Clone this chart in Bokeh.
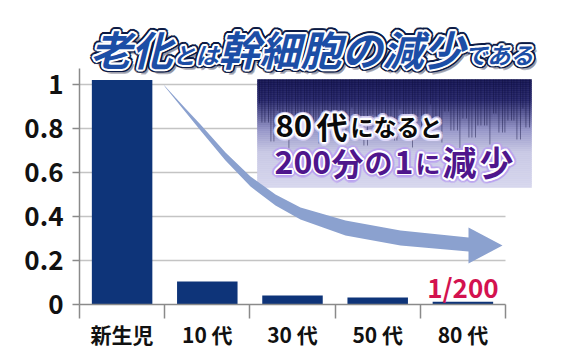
import math
from bokeh.plotting import figure
from bokeh.models import FixedTicker, ColumnDataSource, Range1d
from bokeh.core.properties import value
from bokeh.embed import file_html
from bokeh.resources import INLINE

# ---------------- data ----------------
categories = ["新生児", "10 代", "30 代", "50 代", "80 代"]
values = [1.02, 0.105, 0.041, 0.032, 0.012]
y_ticks = [0, 0.2, 0.4, 0.6, 0.8, 1.0]
y_tick_labels = ["0", "0.2", "0.4", "0.6", "0.8", "1"]
title_parts = ["老化", "とは", "幹細胞の減少", "である"]
callout_line1 = ["80", "代", "になると"]
callout_line2 = ["200", "分", "の", "1", "に", "減", "少"]
bar_note = "1/200"

# ---------------- layout helpers ----------------
W, H = 561, 355
L, B = 79, 51
UX, UY = 85.2, 220.0
X_END = (W - L) / UX
Y_END = (H - B) / UY
FONT = "Noto Sans CJK JP"


def dx(px):
    return (px - L) / UX


def dy(py):
    return (H - B - py) / UY


p = figure(width=W, height=H, x_range=Range1d(0, X_END), y_range=Range1d(0, Y_END),
           min_border_left=L, min_border_right=0, min_border_top=0, min_border_bottom=B,
           output_backend="svg", toolbar_location=None, outline_line_color=None)
p.background_fill_color = "white"
p.border_fill_color = "white"
p.xgrid.visible = False
p.ygrid.visible = False

n = len(categories)
centers = [i + 0.5 for i in range(n)]

# x axis
xa = p.xaxis[0]
xa.ticker = FixedTicker(ticks=centers, minor_ticks=list(range(n + 1)))
xa.major_label_overrides = {c: lab for c, lab in zip(centers, categories)}
xa.major_tick_line_color = None
xa.major_tick_out = 9
xa.major_tick_in = 0
xa.minor_tick_out = 14
xa.minor_tick_in = 0
xa.minor_tick_line_color = "#8a8a8a"
xa.minor_tick_line_width = 1.5
xa.axis_line_color = "#8a8a8a"
xa.axis_line_width = 1.5
xa.bounds = (0, n)
xa.major_label_text_font = FONT
xa.major_label_text_font_size = "21px"
xa.major_label_text_font_style = "bold"
xa.major_label_text_color = "#111111"
xa.major_label_standoff = 0

# y axis
ya = p.yaxis[0]
ya.ticker = FixedTicker(ticks=y_ticks, minor_ticks=[])
ya.major_label_overrides = {t: lab for t, lab in zip(y_ticks, y_tick_labels)}
ya.major_tick_out = 7
ya.major_tick_in = 0
ya.major_tick_line_color = "#8a8a8a"
ya.major_tick_line_width = 1.5
ya.axis_line_color = "#8a8a8a"
ya.axis_line_width = 1.5
ya.bounds = (0, dy(68))
ya.major_label_text_font = FONT
ya.major_label_text_font_size = "26px"
ya.major_label_text_font_style = "bold"
ya.major_label_text_color = "#111111"
ya.major_label_standoff = 9

# gridlines (limited to the category area)
gt = [t for t in y_ticks if t > 0]
p.segment(x0=[0] * len(gt), x1=[n] * len(gt), y0=gt, y1=gt,
          line_color="#c4c4c4", line_width=1.5)

# bars
p.vbar(x=centers, top=values, width=0.71, fill_color="#0e3479", line_color=None)

# ---------------- callout box ----------------
bx0, bx1, by0, by1 = 257, 531, 79, 187
stops = [(79, (22, 22, 84)), (100, (40, 40, 108)), (130, (150, 150, 200)),
         (152, (200, 200, 228)), (187, (214, 214, 237))]


def col_at(py):
    for (ya_, ca), (yb_, cb) in zip(stops[:-1], stops[1:]):
        if ya_ <= py <= yb_:
            t = (py - ya_) / (yb_ - ya_)
            c = [round(ca[k] + (cb[k] - ca[k]) * t) for k in range(3)]
            return "#%02x%02x%02x" % tuple(c)
    return "#%02x%02x%02x" % stops[-1][1]


strip = 2
ys = list(range(by0, by1, strip))
p.quad(left=[dx(bx0)] * len(ys), right=[dx(bx1)] * len(ys),
       top=[dy(y) for y in ys], bottom=[dy(y + strip) for y in ys],
       fill_color=[col_at(y + 1) for y in ys], line_color=[col_at(y + 1) for y in ys],
       line_width=0.6)

# vertical streaks
sx, sy0, sy1 = [], [], []
xpos = bx0 + 2
k = 0
while xpos < bx1 - 1:
    length = 24 + ((k * 37) % 31) + ((k * 13) % 19)
    sx.append(dx(xpos))
    sy0.append(dy(by0))
    sy1.append(dy(by0 + length))
    xpos += 2.4 + (k % 3) * 0.6
    k += 1
p.segment(x0=sx, x1=sx, y0=sy0, y1=sy1, line_color="#10103f", line_alpha=0.45, line_width=1)

# ---------------- arrow ----------------
upper = [(163, 84), (185, 108), (200, 124), (225, 152), (250, 176), (275, 194), (300, 207),
         (345, 220), (400, 230), (468, 237)]
lower = [(165, 87), (200, 130), (225, 160), (250, 186), (275, 205), (300, 219),
         (345, 235), (400, 245), (468, 251)]
head = [(468, 227), (502, 245), (468, 263)]
poly = upper + head + lower[::-1]
p.patch(x=[dx(a) for a, b in poly], y=[dy(b) for a, b in poly],
        fill_color="#8ba1cf", line_color=None)


# ---------------- texts ----------------
def ring(r, nd):
    return [(r * math.cos(2 * math.pi * i / nd), r * math.sin(2 * math.pi * i / nd)) for i in range(nd)]


def outlined(texts, xs, ys_, sizes, layers, align="left", baseline="middle", style="bold"):
    for color, alpha, offs in layers:
        d = dict(x=[], y=[], t=[], fs=[], xo=[], yo=[])
        for t, x, y, s in zip(texts, xs, ys_, sizes):
            for ox, oy in offs:
                d["x"].append(x)
                d["y"].append(y)
                d["t"].append(t)
                d["fs"].append(s)
                d["xo"].append(ox)
                d["yo"].append(oy)
        p.text(x="x", y="y", text="t", x_offset="xo", y_offset="yo", text_font_size="fs",
               source=ColumnDataSource(d), text_font=value(FONT), text_font_style=style,
               text_color=color, text_alpha=alpha, text_align=align, text_baseline=baseline)


# title
tsizes = [41, 23, 41, 23]
tx, cur = [], 90
for t, s in zip(title_parts, tsizes):
    tx.append(dx(cur))
    cur += len(t) * s
tys = [dy(47) if s == 41 else dy(53) for s in tsizes]
outlined(title_parts, tx, tys, ["%dpx" % s for s in tsizes], [
    ("#8c8c9a", 0.6, [(4, 4), (5, 3), (3, 5)]),
    ("#0b1a45", 1.0, ring(3.8, 16)),
    ("white", 1.0, ring(2.0, 12)),
    ("#1c4ea6", 1.0, [(0, 0)]),
], style="bold italic")

# callout line 1
l1_x = [275, 316, 350]
l1_s = ["31px", "31px", "23px"]
outlined(callout_line1, [dx(v) for v in l1_x], [dy(125)] * 3, l1_s, [
    ("#e6e0ff", 0.55, ring(3.5, 16)),
    ("white", 1.0, ring(1.6, 12)),
    ("#0a0a0a", 1.0, [(0, 0)]),
], baseline="alphabetic")

# callout line 2
l2_x = [274, 331, 364, 394, 415, 442, 479]
l2_s = ["32px", "32px", "28px", "32px", "25px", "34px", "34px"]
outlined(callout_line2, [dx(v) for v in l2_x], [dy(161)] * len(l2_x), l2_s, [
    ("#b9a0f0", 0.5, ring(4, 16)),
    ("white", 1.0, ring(1.8, 12)),
    ("#4f168c", 1.0, [(0, 0)]),
], baseline="alphabetic")

# 1/200 note
p.text(x=[centers[-1]], y=[dy(286)], text=[bar_note], text_font=value(FONT),
       text_font_style="bold", text_font_size="26px", text_color="#d3124f",
       text_align="center", text_baseline="middle")

open("out.html", "w").write(file_html(p, INLINE))
